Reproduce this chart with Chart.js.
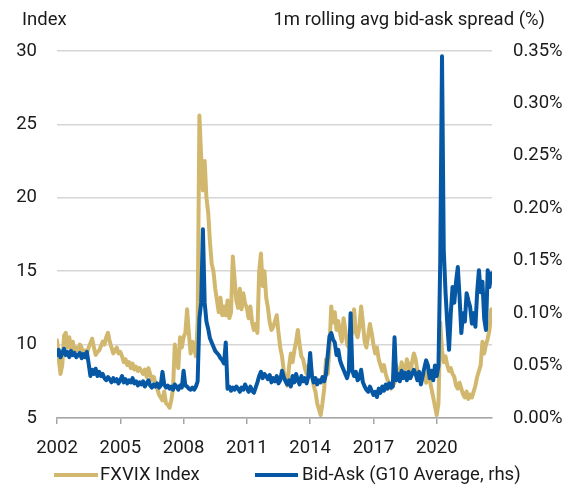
<!DOCTYPE html>
<html><head><meta charset="utf-8">
<script src="https://cdn.jsdelivr.net/npm/chart.js@4"></script>
<style>html,body{margin:0;padding:0;background:#fff}#wrap{width:580px;height:489px}</style>
</head><body><div id="wrap"><canvas id="c" width="580" height="489"></canvas></div>
<script>
// Monthly observations, Jan 2002 .. Aug 2022
const startYear = 2002;
const fxvix = [
  10.3, 9.0, 8.0, 8.6, 10.6, 10.8, 9.8, 10.5, 9.6, 10.2, 9.5, 9.8,   // 2002
  9.6, 10.0, 9.8, 9.2, 9.6, 9.4, 9.8, 10.1, 10.4, 9.8, 9.3, 9.5,    // 2003
  9.6, 9.9, 10.2, 10.0, 10.5, 10.8, 10.2, 9.8, 9.4, 9.6, 9.8, 9.4,  // 2004
  9.5, 9.2, 8.8, 9.0, 8.6, 8.8, 8.4, 8.7, 8.3, 8.5, 8.2, 8.4,       // 2005
  8.2, 8.0, 8.3, 7.8, 8.4, 8.0, 7.6, 7.8, 7.4, 7.0, 6.6, 6.4,       // 2006
  6.2, 6.8, 6.0, 5.9, 5.7, 6.2, 7.0, 10.0, 9.0, 8.4, 10.5, 9.8,     // 2007
  10.5, 10.8, 12.4, 10.8, 9.4, 10.2, 9.8, 9.2, 11.5, 25.6, 22.8, 20.5, // 2008
  22.5, 20.0, 19.0, 17.0, 15.5, 15.0, 13.8, 13.0, 12.2, 13.2, 12.0, 12.6, // 2009
  12.0, 13.0, 11.8, 12.2, 16.0, 14.5, 13.0, 12.5, 13.8, 12.4, 13.5, 12.8, // 2010
  12.5, 11.8, 12.6, 11.5, 11.0, 11.4, 10.8, 15.0, 16.2, 14.0, 15.0, 13.2, // 2011
  12.5, 11.5, 11.0, 11.2, 11.6, 12.0, 10.8, 9.8, 9.2, 8.2, 7.6, 7.2,  // 2012
  8.5, 9.4, 8.8, 9.6, 10.2, 11.0, 10.0, 9.2, 9.0, 8.4, 8.0, 8.6,     // 2013
  8.6, 8.0, 7.2, 6.8, 6.0, 5.6, 5.2, 6.0, 7.0, 9.0, 8.0, 9.8,        // 2014
  12.6, 11.5, 12.2, 11.0, 11.6, 10.8, 10.2, 11.8, 11.0, 10.0, 9.8, 10.4, // 2015
  11.0, 12.4, 10.8, 10.5, 11.2, 12.6, 11.5, 10.2, 9.8, 10.6, 11.4, 10.8, // 2016
  10.0, 9.4, 9.8, 9.0, 8.6, 8.2, 8.6, 8.0, 7.6, 7.4, 7.0, 7.2,       // 2017
  7.4, 8.6, 8.0, 7.6, 8.8, 8.4, 8.0, 9.0, 8.6, 8.2, 8.8, 9.4,        // 2018
  9.0, 8.2, 8.0, 7.6, 7.8, 8.0, 7.4, 8.2, 7.6, 7.0, 6.4, 5.8,        // 2019
  5.2, 6.0, 11.5, 9.6, 8.8, 9.2, 8.6, 8.2, 8.4, 8.0, 7.8, 7.2,       // 2020
  7.0, 7.4, 7.0, 6.6, 6.4, 6.8, 6.3, 6.6, 6.4, 6.8, 7.2, 7.8,        // 2021
  8.2, 8.6, 10.2, 9.4, 10.0, 10.4, 11.0, 12.4                        // 2022
];
const bidAsk = [
  0.060, 0.065, 0.058, 0.062, 0.066, 0.060, 0.063, 0.058, 0.064, 0.060, 0.062, 0.058, // 2002
  0.060, 0.062, 0.057, 0.061, 0.058, 0.063, 0.052, 0.040, 0.046, 0.042, 0.047, 0.040, // 2003
  0.044, 0.040, 0.042, 0.038, 0.036, 0.039, 0.037, 0.034, 0.038, 0.035, 0.037, 0.033, // 2004
  0.036, 0.040, 0.034, 0.037, 0.033, 0.036, 0.034, 0.038, 0.033, 0.035, 0.031, 0.034, // 2005
  0.032, 0.035, 0.030, 0.033, 0.036, 0.031, 0.029, 0.032, 0.030, 0.033, 0.029, 0.031, // 2006
  0.044, 0.032, 0.029, 0.031, 0.028, 0.030, 0.027, 0.032, 0.030, 0.027, 0.031, 0.029, // 2007
  0.045, 0.031, 0.030, 0.028, 0.027, 0.029, 0.027, 0.030, 0.035, 0.095, 0.110, 0.180, // 2008
  0.110, 0.092, 0.085, 0.076, 0.072, 0.068, 0.064, 0.062, 0.060, 0.057, 0.055, 0.052, // 2009
  0.072, 0.028, 0.030, 0.026, 0.029, 0.027, 0.030, 0.028, 0.025, 0.029, 0.027, 0.032, // 2010
  0.028, 0.025, 0.030, 0.026, 0.024, 0.029, 0.034, 0.040, 0.044, 0.038, 0.042, 0.040, // 2011
  0.037, 0.041, 0.034, 0.038, 0.035, 0.040, 0.033, 0.036, 0.045, 0.039, 0.035, 0.032, // 2012
  0.036, 0.030, 0.040, 0.034, 0.042, 0.036, 0.032, 0.040, 0.035, 0.038, 0.033, 0.040, // 2013
  0.062, 0.040, 0.034, 0.038, 0.032, 0.036, 0.034, 0.039, 0.035, 0.042, 0.060, 0.078, // 2014
  0.081, 0.075, 0.072, 0.060, 0.065, 0.055, 0.050, 0.046, 0.042, 0.038, 0.045, 0.100, // 2015
  0.045, 0.040, 0.044, 0.036, 0.038, 0.046, 0.034, 0.030, 0.027, 0.025, 0.030, 0.026, // 2016
  0.022, 0.025, 0.020, 0.028, 0.024, 0.030, 0.026, 0.032, 0.028, 0.033, 0.029, 0.030, // 2017
  0.077, 0.036, 0.042, 0.035, 0.045, 0.038, 0.043, 0.036, 0.044, 0.038, 0.042, 0.046, // 2018
  0.042, 0.036, 0.044, 0.032, 0.040, 0.048, 0.055, 0.050, 0.038, 0.045, 0.036, 0.050, // 2019
  0.040, 0.050, 0.150, 0.345, 0.160, 0.120, 0.090, 0.065, 0.100, 0.125, 0.110, 0.130, // 2020
  0.144, 0.115, 0.081, 0.100, 0.092, 0.119, 0.112, 0.106, 0.090, 0.100, 0.087, 0.120, // 2021
  0.141, 0.120, 0.130, 0.095, 0.084, 0.141, 0.125, 0.138                              // 2022
];
const xTickLabels = [2002, 2005, 2008, 2011, 2014, 2017, 2020];
const leftTickLabels = [5, 10, 15, 20, 25, 30];
const rightTickLabels = [0, 0.05, 0.10, 0.15, 0.20, 0.25, 0.30, 0.35];
const seriesNames = ['FXVIX Index', 'Bid-Ask (G10 Average, rhs)'];
const leftTitle = 'Index';
const rightTitle = '1m rolling avg bid-ask spread (%)';

const dates = fxvix.map((_, i) => startYear + i / 12);
const GOLD = '#D2B86E';
const BLUE = '#0658A4';
const TEXT = '#1a1a1a';
const FONT = { family: 'Roboto', size: 18.5 };

const overlay = {
  id: 'overlay',
  afterDraw(chart) {
    const c = chart.ctx;
    c.save();
    c.fillStyle = TEXT;
    c.font = '18.5px Roboto';
    c.textBaseline = 'middle';
    c.textAlign = 'left';
    c.fillText(leftTitle, 22, 20);
    c.textAlign = 'right';
    c.fillText(rightTitle, 545, 20);
    const items = [
      { ds: chart.data.datasets[1], x0: 54, x1: 98, tx: 100 },
      { ds: chart.data.datasets[0], x0: 255, x1: 298, tx: 302 }
    ];
    const ly = 475;
    items.forEach(it => {
      c.strokeStyle = it.ds.borderColor;
      c.lineWidth = 4;
      c.lineCap = 'butt';
      c.beginPath(); c.moveTo(it.x0, ly); c.lineTo(it.x1, ly); c.stroke();
      c.fillStyle = TEXT;
      c.textAlign = 'left';
      c.fillText(it.ds.label, it.tx, ly);
    });
    c.restore();
  }
};

function build() {
  new Chart(document.getElementById('c'), {
    type: 'line',
    data: {
      datasets: [
        { label: seriesNames[1], data: dates.map((d, i) => ({ x: d, y: bidAsk[i] })), yAxisID: 'yR',
          borderColor: BLUE, backgroundColor: BLUE, borderWidth: 4, pointRadius: 0, tension: 0,
          borderJoinStyle: 'round', borderCapStyle: 'round', order: 0 },
        { label: seriesNames[0], data: dates.map((d, i) => ({ x: d, y: fxvix[i] })), yAxisID: 'yL',
          borderColor: GOLD, backgroundColor: GOLD, borderWidth: 4, pointRadius: 0, tension: 0,
          borderJoinStyle: 'round', borderCapStyle: 'round', order: 1 }
      ]
    },
    options: {
      responsive: false, animation: false, devicePixelRatio: 1,
      layout: { padding: { top: 51, left: 0, right: 0, bottom: 0 } },
      plugins: { legend: { display: false }, tooltip: { enabled: false } },
      scales: {
        x: {
          type: 'linear', min: 2002, max: 2022.62,
          afterBuildTicks: s => { s.ticks = xTickLabels.map(v => ({ value: v })); },
          afterFit: s => { s.height = 71; },
          ticks: { font: FONT, color: TEXT, padding: 13, maxRotation: 0, autoSkip: false, callback: v => String(v) },
          grid: { drawOnChartArea: false, drawTicks: true, tickLength: 6, color: '#a6a6a6', lineWidth: 1.5 },
          border: { display: true, color: '#a6a6a6', width: 1.5 }
        },
        yL: {
          type: 'linear', position: 'left', min: 5, max: 30,
          afterBuildTicks: s => { s.ticks = leftTickLabels.map(v => ({ value: v })); },
          afterFit: s => { s.width = 57; },
          ticks: { font: FONT, color: TEXT, padding: 20, callback: v => String(v) },
          grid: { color: '#d6d6d6', lineWidth: 1.5, drawTicks: false },
          border: { display: false }
        },
        yR: {
          type: 'linear', position: 'right', min: 0, max: 0.35,
          afterBuildTicks: s => { s.ticks = rightTickLabels.map(v => ({ value: v })); },
          afterFit: s => { s.width = 88; },
          ticks: { font: FONT, color: TEXT, padding: 21, callback: v => v.toFixed(2) + '%' },
          grid: { drawOnChartArea: false, drawTicks: false },
          border: { display: false }
        }
      }
    },
    plugins: [overlay]
  });
}
(document.fonts ? document.fonts.load('18.5px Roboto') : Promise.resolve()).then(build, build);
</script>
</body></html>
